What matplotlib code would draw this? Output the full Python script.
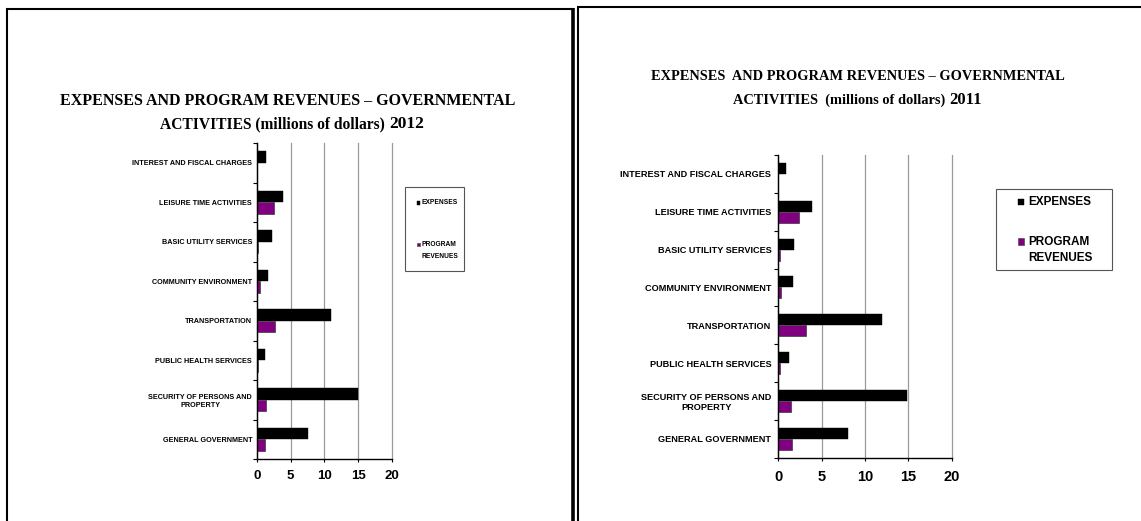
import numpy as np
import matplotlib
matplotlib.use("Agg")
import matplotlib.pyplot as plt
from matplotlib.lines import Line2D
from matplotlib.patches import Rectangle

# ── Data (millions of dollars), bottom category first ─────────────────────
categories = [
    "GENERAL GOVERNMENT",
    "SECURITY OF PERSONS AND\nPROPERTY",
    "PUBLIC HEALTH SERVICES",
    "TRANSPORTATION",
    "COMMUNITY ENVIRONMENT",
    "BASIC UTILITY SERVICES",
    "LEISURE TIME ACTIVITIES",
    "INTEREST AND FISCAL CHARGES",
]

expenses_2012 = [7.5, 15.0, 1.2, 11.0, 1.6, 2.2, 3.8, 1.3]
revenues_2012 = [1.2, 1.3, 0.2, 2.6, 0.45, 0.2, 2.5, 0.0]

expenses_2011 = [8.0, 14.8, 1.2, 12.0, 1.7, 1.8, 3.85, 0.9]
revenues_2011 = [1.6, 1.5, 0.15, 3.2, 0.35, 0.2, 2.4, 0.0]

x_ticks = [0, 5, 10, 15, 20]
series_labels = ["EXPENSES", "PROGRAM", "REVENUES"]

# ── Style ─────────────────────────────────────────────────────────────────
C_EXP = "black"
C_REV = "#800080"
C_REV_EDGE = "#3a3a3a"
SANS = ["Liberation Sans", "DejaVu Sans"]
SERIF = ["Liberation Serif", "DejaVu Serif"]

W, H = 1141, 521
fig = plt.figure(figsize=(W / 100, H / 100), dpi=100)


def fx(px):
    return px / W


def fy(py):
    return 1 - py / H


def box(x0, y0, x1, y1, **kw):
    """Rectangle given in pixel coords (y downwards)."""
    fig.add_artist(Rectangle((fx(x0), fy(y1)), fx(x1) - fx(x0),
                             fy(y0) - fy(y1), transform=fig.transFigure, **kw))


# ── Panel frames ──────────────────────────────────────────────────────────
frame = [
    ([fx(7), fx(7)], [fy(8.5), fy(521)], 1.5),
    ([fx(6), fx(574)], [fy(8.5), fy(8.5)], 1.5),
    ([fx(573), fx(573)], [fy(8), fy(521)], 2.6),
    ([fx(578), fx(578)], [fy(6.5), fy(521)], 1.5),
    ([fx(577), fx(1141)], [fy(6.5), fy(6.5)], 1.5),
]
for xs, ys, lw in frame:
    fig.add_artist(Line2D(xs, ys, color="black", lw=lw, solid_capstyle="butt"))


def draw_panel(rect, exp, rev, ylab_size, ylab_pad, xlab_size, xlab_pad):
    ax = fig.add_axes(rect)
    y = np.arange(len(categories))
    h = 0.29
    ax.barh(y + h / 2, exp, height=h, color=C_EXP, edgecolor=C_EXP, lw=0.3)
    ax.barh(y - h / 2, rev, height=h, color=C_REV, edgecolor=C_REV_EDGE,
            lw=0.5)

    ax.set_xlim(0, 20)
    ax.set_ylim(-0.5, len(categories) - 0.5)
    ax.set_xticks(x_ticks)
    ax.set_xticklabels([str(t) for t in x_ticks], family=SANS,
                       fontsize=xlab_size, fontweight="bold")

    # category boundaries get tick marks, centres get labels
    ax.set_yticks(np.arange(-0.5, len(categories), 1.0))
    ax.set_yticklabels([])
    ax.set_yticks(y, minor=True)
    ax.set_yticklabels(categories, minor=True, family=SANS,
                       fontsize=ylab_size, fontweight="bold",
                       multialignment="center")
    ax.tick_params(axis="y", which="major", length=3, width=0.8)
    ax.tick_params(axis="y", which="minor", length=0, pad=ylab_pad)
    ax.tick_params(axis="x", length=2, width=0.8, pad=xlab_pad)

    ax.xaxis.grid(True, color="#9a9a9a", lw=0.9)
    for gl in ax.get_xgridlines():
        gl.set_clip_on(False)
    ax.set_axisbelow(True)
    for s in ["top", "right"]:
        ax.spines[s].set_visible(False)
    for s in ["left", "bottom"]:
        ax.spines[s].set_linewidth(1.0)
    return ax


def draw_legend(frame_px, m1, m2, tx, ty, size):
    """Hand-placed legend so the box matches the original proportions."""
    box(*frame_px, facecolor="white", edgecolor="#555555", lw=0.8)
    box(*m1, facecolor=C_EXP, edgecolor=C_EXP, lw=0.3)
    box(*m2, facecolor=C_REV, edgecolor=C_REV_EDGE, lw=0.4)
    for lab, yy in zip(series_labels, ty):
        fig.text(fx(tx), fy(yy), lab, ha="left", va="center", family=SANS,
                 fontweight="bold", fontsize=size)


# ── 2012 panel ────────────────────────────────────────────────────────────
ax1 = draw_panel([fx(257), fy(459), fx(391.7) - fx(257), fy(143) - fy(459)],
                 expenses_2012, revenues_2012, 5.2, 3.5, 9.5, 6)

fig.text(fx(288), fy(101), "EXPENSES AND PROGRAM REVENUES \u2013 GOVERNMENTAL",
         ha="center", va="center", family=SERIF, fontweight="bold",
         fontsize=11.5)
fig.text(fx(389), fy(128), "ACTIVITIES (millions of dollars) ",
         ha="right", va="baseline", family=SERIF, fontweight="bold",
         fontsize=11.2)
fig.text(fx(389), fy(128), "2012", ha="left", va="baseline", family=SERIF,
         fontweight="bold", fontsize=12.5)

draw_legend((405, 187, 464, 271), (416.5, 201.5, 419.5, 204.5),
            (416.5, 243.5, 419.5, 246.5), 421.5, (203, 245, 257), 4.8)

# ── 2011 panel ────────────────────────────────────────────────────────────
ax2 = draw_panel([fx(778.3), fy(457.7), fx(951.7) - fx(778.3),
                  fy(155) - fy(457.7)],
                 expenses_2011, revenues_2011, 6.6, 5.0, 10.5, 7)

fig.text(fx(858), fy(76), "EXPENSES  AND PROGRAM REVENUES \u2013 GOVERNMENTAL",
         ha="center", va="center", family=SERIF, fontweight="bold",
         fontsize=10.4)
fig.text(fx(949), fy(104), "ACTIVITIES  (millions of dollars) ",
         ha="right", va="baseline", family=SERIF, fontweight="bold",
         fontsize=10.4)
fig.text(fx(949), fy(104), "2011", ha="left", va="baseline", family=SERIF,
         fontweight="bold", fontsize=12)

draw_legend((996, 189, 1112, 270), (1018, 198.5, 1024, 204.5),
            (1018, 238.5, 1024, 244.5), 1028, (202, 242, 258), 8.5)

fig.savefig("out.png", dpi=100)
